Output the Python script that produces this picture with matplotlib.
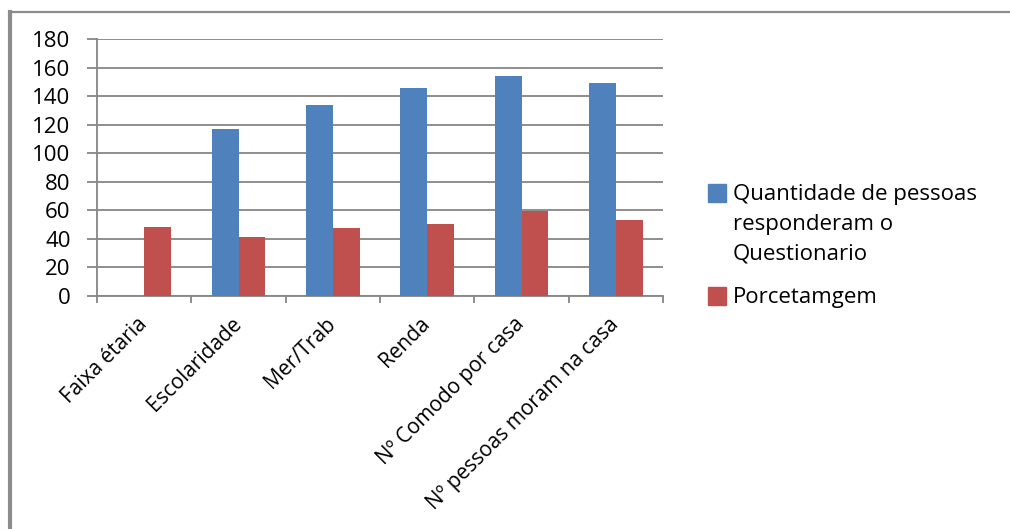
import numpy as np
import matplotlib
matplotlib.use("Agg")
import matplotlib.pyplot as plt
from matplotlib.patches import Rectangle
from matplotlib.lines import Line2D

categories = ["Faixa étaria", "Escolaridade", "Mer/Trab", "Renda",
              "Nº Comodo por casa", "Nº pessoas moram na casa"]
quantidade = [0, 117, 134, 146, 154, 149]
porcentagem = [48, 41, 47.5, 50.5, 59.5, 53]
series_names = ["Quantidade de pessoas\nresponderam o\nQuestionario", "Porcetamgem"]
series_colors = ["#4F81BD", "#C0504D"]
y_ticks = list(range(0, 181, 20))

plt.rcParams['font.family'] = ['Open Sans', 'DejaVu Sans']
FS = 16
W, H = 1010, 529
fig = plt.figure(figsize=(W / 100, H / 100), dpi=100)
ax = fig.add_axes([97 / W, (H - 296) / H, (663 - 97) / W, (296 - 39) / H])

grey = "#868686"
x = np.arange(len(categories))
bw = 0.286
ax.bar(x - bw / 2, quantidade, bw, color=series_colors[0], zorder=3)
ax.bar(x + bw / 2, porcentagem, bw, color=series_colors[1], zorder=3)

ax.set_xlim(-0.5, len(categories) - 0.5)
ax.set_ylim(0, 180)
ax.set_yticks(y_ticks)
ax.tick_params(axis='y', labelsize=FS, length=7, width=1.3, color=grey, pad=12)
ax.yaxis.grid(True, color=grey, linewidth=1.3, zorder=0)

ax.set_xticks(x)
ax.set_xticklabels(categories, rotation=45, ha='right', va='center',
                   rotation_mode='anchor', fontsize=15)
ax.tick_params(axis='x', which='major', length=0, pad=18)
ax.set_xticks(np.arange(-0.5, len(categories)), minor=True)
ax.tick_params(axis='x', which='minor', length=5, width=1.3, color=grey)

for side in ["top", "right"]:
    ax.spines[side].set_visible(False)
for side in ["left", "bottom"]:
    ax.spines[side].set_color(grey)
    ax.spines[side].set_linewidth(1.3)

# legend drawn by hand so the square sits on the first line, as in Excel
leg_x, leg_y = 708, [193, 296]
for name, color, ly in zip(series_names, series_colors, leg_y):
    fig.add_artist(Rectangle((leg_x / W, (H - ly - 9) / H), 18 / W, 18 / H,
                             color=color, transform=fig.transFigure))
    fig.text(733 / W, (H - ly + 9) / H, name, fontsize=FS, va='top',
             ha='left', linespacing=1.55)

# outer chart border (only left and top visible in the crop)
fig.add_artist(Line2D([10 / W, 10 / W], [0, (H - 12) / H], color="#8c8c8c",
                      linewidth=3, transform=fig.transFigure))
fig.add_artist(Line2D([10 / W, 1], [(H - 12) / H, (H - 12) / H], color="#8c8c8c",
                      linewidth=1.6, transform=fig.transFigure))

fig.savefig("out.png", dpi=100)
